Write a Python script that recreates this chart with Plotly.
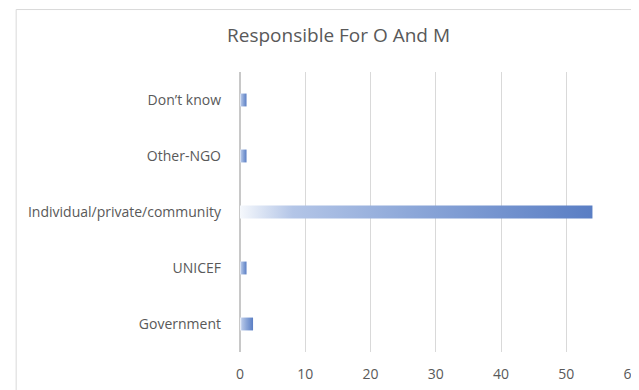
import plotly.graph_objects as go

categories = ["Government", "UNICEF", "Individual/private/community", "Other-NGO", "Don\u2019t know"]
values = [2, 1, 54, 1, 1]

header = "FIGURE 3.26 RESPONSIBILITY FOR OPERATION AND MAINTENANCE"
title = "Responsible For O And M"

half = 0.115
grad = [[0, "#f5f8fc"], [0.15, "#b3c5e7"], [0.5, "#8ba6d8"], [1, "#5a7ec4"]]

fig = go.Figure()
for i, (c, v) in enumerate(zip(categories, values)):
    fig.add_trace(go.Scatter(
        x=[0, v, v, 0, 0],
        y=[i - half, i - half, i + half, i + half, i - half],
        mode="lines", line=dict(width=0), fill="toself",
        fillgradient=dict(type="horizontal", colorscale=grad),
        name=c, hoverinfo="text", text=f"{c}: {v}", showlegend=False,
    ))

# page body adds 8px margin, margins compensate (scrollbars hidden below)
fig.update_layout(
    width=631, height=382,
    margin=dict(l=232, r=7, t=64, b=38, autoexpand=False),
    paper_bgcolor="white", plot_bgcolor="white",
    font=dict(family="Open Sans", size=14, color="#595959"),
    showlegend=False,
)
fig.update_xaxes(range=[0, 60.06], dtick=10, showgrid=True, gridcolor="#d9d9d9", gridwidth=1,
                 zeroline=True, zerolinecolor="#c8c8c8", zerolinewidth=2,
                 showline=False, ticks="", ticklabelstandoff=12, automargin=False,
                 ticklabeloverflow="allow", tickfont=dict(size=14), fixedrange=True)
fig.update_yaxes(range=[-0.5, 4.5], tickvals=list(range(len(categories))), ticktext=categories,
                 showgrid=False, zeroline=False, showline=False, ticks="",
                 ticklabelstandoff=18, automargin=False, fixedrange=True)

# chart border
fig.add_shape(type="rect", xref="paper", yref="paper", x0=-0.571, x1=1.1, y0=-0.3, y1=1.223,
              line=dict(color="#d9d9d9", width=1), fillcolor="rgba(0,0,0,0)", layer="below")

fig.add_annotation(text=title, xref="paper", yref="paper", x=0.25, y=1.132,
                   xanchor="center", yanchor="middle", showarrow=False,
                   font=dict(size=19, color="#595959"))
fig.add_annotation(text=header, xref="paper", yref="paper", x=-0.585, y=1.226,
                   xanchor="left", yanchor="bottom", showarrow=False,
                   font=dict(size=12, color="#c0392b"))

fig.write_html("out.html", post_script="document.documentElement.style.overflow='hidden';document.body.style.overflow='hidden';")
